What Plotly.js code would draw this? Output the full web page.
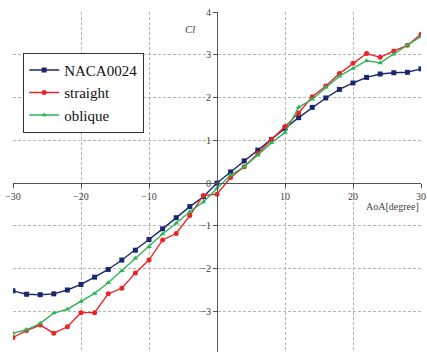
<!DOCTYPE html>
<html><head><meta charset="utf-8">
<script src="https://cdn.plot.ly/plotly-3.0.1.min.js"></script>
<style>html,body{margin:0;padding:0;background:#fff}#c{width:427px;height:352px}</style>
</head><body><div id="c"></div>
<script>
const aoa = [-30,-28,-26,-24,-22,-20,-18,-16,-14,-12,-10,-8,-6,-4,-2,0,2,4,6,8,10,12,14,16,18,20,22,24,26,28,30];
const naca0024 = [-2.52,-2.60,-2.61,-2.59,-2.50,-2.37,-2.20,-2.02,-1.80,-1.57,-1.32,-1.07,-0.81,-0.55,-0.32,0.0,0.26,0.52,0.77,1.02,1.28,1.53,1.77,1.99,2.19,2.34,2.47,2.55,2.58,2.59,2.67];
const straight = [-3.61,-3.45,-3.32,-3.51,-3.36,-3.03,-3.03,-2.59,-2.46,-2.10,-1.80,-1.33,-1.18,-0.76,-0.29,-0.26,0.13,0.38,0.69,1.02,1.32,1.64,2.02,2.27,2.56,2.80,3.03,2.94,3.09,3.22,3.48];
const oblique = [-3.51,-3.43,-3.28,-3.04,-2.95,-2.77,-2.58,-2.33,-2.05,-1.76,-1.49,-1.19,-0.94,-0.67,-0.44,-0.12,0.19,0.38,0.65,0.94,1.18,1.77,1.96,2.24,2.50,2.68,2.86,2.81,3.01,3.22,3.43];
const seriesNames = ["NACA0024","straight","oblique"];
const xTicks = [-30,-20,-10,10,20,30];
const yTicks = [-3,-2,-1,0,1,2,3,4];

const serif = "Liberation Serif";
const traces = [
  {x:aoa, y:naca0024, name:seriesNames[0], mode:"lines+markers",
   line:{color:"#1b2670", width:1.4}, marker:{symbol:"square", size:5, color:"#1b2670"}},
  {x:aoa, y:straight, name:seriesNames[1], mode:"lines+markers",
   line:{color:"#ec2327", width:1.4}, marker:{symbol:"circle", size:5, color:"#ec2327"}},
  {x:aoa, y:oblique, name:seriesNames[2], mode:"lines+markers",
   line:{color:"#2fb45a", width:1.4}, marker:{symbol:"triangle-up", size:5, color:"#2fb45a"}}
];
const yr = [-3.95, 4];
const layout = {
  width:427, height:352,
  font:{family:serif, size:10, color:"#444"},
  margin:{l:13, r:6, t:12, b:0},
  paper_bgcolor:"#fff", plot_bgcolor:"#fff",
  showlegend:true,
  legend:{x:0.025, y:0.88, xanchor:"left", yanchor:"top",
    bgcolor:"#fff", bordercolor:"#333", borderwidth:1,
    font:{family:serif, size:15, color:"#111"},
    tracegroupgap:0},
  xaxis:{range:[-30,30], anchor:"free", position:(0-yr[0])/(yr[1]-yr[0]),
    showline:true, linecolor:"#555", linewidth:1.2,
    tickvals:xTicks, ticks:"outside", ticklen:4, tickcolor:"#555",
    tickfont:{family:serif, size:10, color:"#444"},
    showgrid:true, gridcolor:"#b5b5b5", griddash:"3px,2px", gridwidth:1,
    zeroline:false},
  yaxis:{range:yr, anchor:"free", position:0.5,
    showline:true, linecolor:"#555", linewidth:1.2,
    tickvals:yTicks, ticks:"outside", ticklen:4, tickcolor:"#555",
    tickfont:{family:serif, size:10, color:"#444"},
    showgrid:true, gridcolor:"#b5b5b5", griddash:"3px,2px", gridwidth:1,
    zeroline:false},
  annotations:[
    {text:"<i>Cl</i>", x:-4, y:3.6, xref:"x", yref:"y", showarrow:false,
     font:{family:serif, size:11, color:"#444"}, xanchor:"center"},
    {text:"AoA[degree]", x:1, xref:"paper", y:-0.55, yref:"y", showarrow:false,
     xanchor:"right", font:{family:serif, size:10, color:"#444"}}
  ]
};
Plotly.newPlot("c", traces, layout, {displayModeBar:false, staticPlot:true});
</script></body></html>
